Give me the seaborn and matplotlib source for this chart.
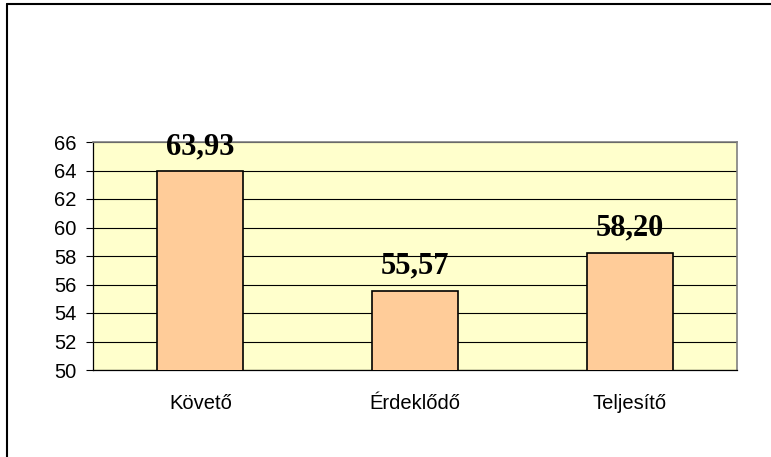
import matplotlib
matplotlib.use("Agg")
import matplotlib.pyplot as plt
import seaborn as sns
from matplotlib.lines import Line2D

# ==============================
# DATA
# ==============================

categories = ["Követő", "Érdeklődő", "Teljesítő"]
values = [63.93, 55.57, 58.20]
y_ticks = [50, 52, 54, 56, 58, 60, 62, 64, 66]

# ==============================
# PLOT
# ==============================

sns.set_style("white")
plt.rcParams['font.family'] = ['Liberation Sans', 'DejaVu Sans']
plt.rcParams['text.color'] = 'black'
plt.rcParams['xtick.color'] = 'black'
plt.rcParams['ytick.color'] = 'black'
plt.rcParams['xtick.labelcolor'] = 'black'
plt.rcParams['ytick.labelcolor'] = 'black'

fig = plt.figure(figsize=(7.71, 4.57), dpi=100)
ax = fig.add_axes([93 / 771, 87 / 457, 644 / 771, 228 / 457])
ax.set_facecolor("#FFFFCC")

sns.barplot(
    x=categories,
    y=values,
    color="#FFCC99",
    saturation=1,
    width=0.4,
    edgecolor="black",
    linewidth=1.2,
    ax=ax,
    zorder=3
)

ax.set_ylim(50, 66)
ax.set_xlim(-0.5, 2.5)
ax.set_yticks(y_ticks)
ax.set_yticklabels([str(t) for t in y_ticks], fontsize=14.5, color="black")
ax.set_xticklabels(categories, fontsize=14.5, color="black")
ax.set_xlabel("")
ax.set_ylabel("")

# horizontal gridlines
ax.yaxis.grid(True, color="black", linewidth=0.8, zorder=1)
ax.set_axisbelow(True)

# category boundary tick marks
ax.set_xticks([-0.5, 0.5, 1.5, 2.5], minor=True)
ax.tick_params(axis="x", which="major", length=0, pad=17)
ax.tick_params(axis="x", which="minor", length=5, width=0.8, color="black", direction="out")
ax.tick_params(axis="y", which="major", length=5, width=0.8, color="black", direction="out", pad=7, left=True)

for side in ["left", "bottom"]:
    ax.spines[side].set_color("black")
    ax.spines[side].set_linewidth(0.9)
for side in ["top", "right"]:
    ax.spines[side].set_color("#808080")
    ax.spines[side].set_linewidth(1.2)

# value labels
for i, v in enumerate(values):
    ax.annotate(
        f"{v:.2f}".replace(".", ","),
        xy=(i, v),
        xytext=(0, 12.5),
        textcoords="offset points",
        ha="center",
        va="baseline",
        color="black",
        fontsize=22,
        fontweight="bold",
        family=["Liberation Serif", "DejaVu Serif"],
        annotation_clip=False,
        zorder=5
    )

# outer chart border (left and top edges visible)
fig.add_artist(Line2D([6.5 / 771, 6.5 / 771], [0, 1 - 3.5 / 457], color="black", linewidth=1.5))
fig.add_artist(Line2D([6.5 / 771, 1], [1 - 3.5 / 457, 1 - 3.5 / 457], color="black", linewidth=1.5))

plt.savefig("out.png", dpi=100)
